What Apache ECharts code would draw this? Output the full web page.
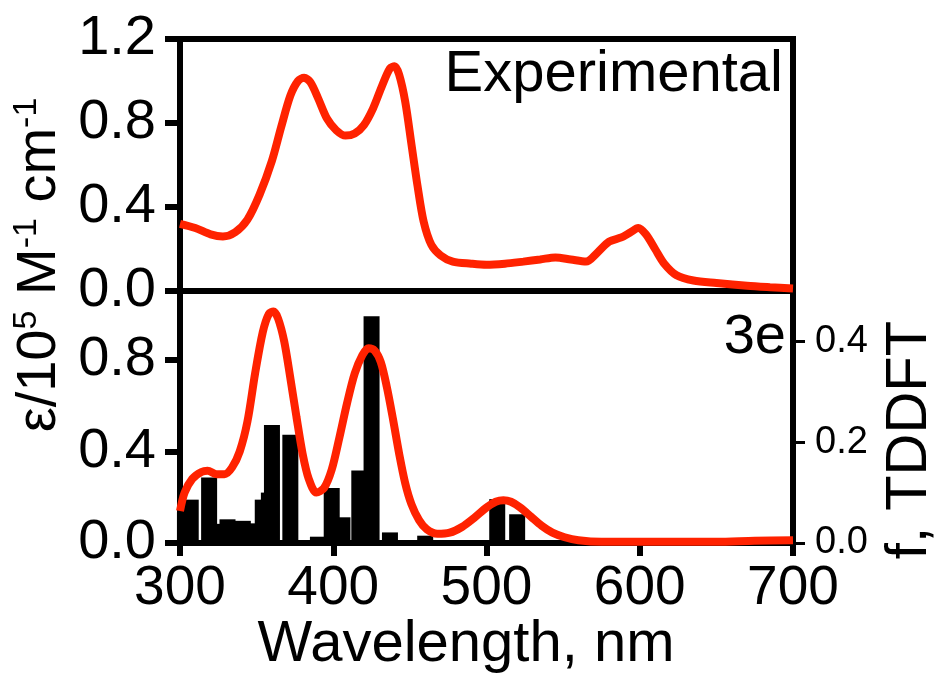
<!DOCTYPE html>
<html>
<head>
<meta charset="utf-8">
<script src="https://cdn.jsdelivr.net/npm/echarts@6/dist/echarts.min.js"></script>
<style>
    html, body { margin: 0; padding: 0; background: #fff; }
    #chart { width: 936px; height: 683px; }
</style>
</head>
<body>
<div id="chart"></div>
<script>
// experimental absorption (top panel)
const expWave = [300, 310, 320, 328, 336, 344, 352, 360, 366, 372, 377, 381, 385, 390, 396, 402, 408, 414, 420, 426,
    432, 437, 440, 443, 447, 451, 455, 459, 464, 470, 478, 490, 500, 512, 524, 535, 545, 555, 565, 572,
    580, 588, 594, 599, 604, 610, 616, 624, 635, 650, 670, 685, 700];
const expAbs = [0.32, 0.30, 0.27, 0.26, 0.28, 0.34, 0.46, 0.62, 0.78, 0.93, 1.0, 1.015, 0.995, 0.92, 0.82, 0.765, 0.74, 0.75, 0.79, 0.87,
    0.98, 1.06, 1.07, 1.03, 0.90, 0.70, 0.50, 0.33, 0.22, 0.17, 0.14, 0.13, 0.125, 0.13, 0.14, 0.15, 0.16, 0.15, 0.14, 0.18,
    0.235, 0.255, 0.28, 0.30, 0.27, 0.20, 0.13, 0.075, 0.05, 0.038, 0.025, 0.018, 0.012];

// simulated spectrum of 3e (bottom panel, left axis)
const calcWave = [300, 303, 308, 314, 318, 324, 329, 334, 339, 344, 349, 354, 358, 361, 364, 368, 372, 376, 380, 384,
    389, 394, 399, 404, 409, 414, 419, 423, 427, 431, 435, 439, 443, 447, 451, 456, 461, 468, 476, 484,
    492, 500, 506, 511, 516, 522, 529, 536, 543, 551, 560, 575, 650, 675, 700];
const calcAbs = [0.14, 0.22, 0.28, 0.31, 0.315, 0.30, 0.30, 0.33, 0.40, 0.53, 0.74, 0.92, 1.0, 1.01, 0.98, 0.88, 0.72, 0.55, 0.39, 0.28,
    0.22, 0.24, 0.32, 0.46, 0.61, 0.74, 0.82, 0.85, 0.84, 0.79, 0.68, 0.54, 0.39, 0.26, 0.17, 0.10, 0.06, 0.04, 0.045, 0.07,
    0.11, 0.155, 0.18, 0.187, 0.18, 0.155, 0.115, 0.075, 0.045, 0.025, 0.012, 0.005, 0.005, 0.01, 0.012];

// TDDFT oscillator strengths (bottom panel, right axis)
const stickWave = [297, 307, 322, 319, 331, 341, 345, 354, 358, 360, 372, 390, 399, 406, 417, 425, 437, 460, 507, 520];
const stickF = [0.061, 0.086, 0.038, 0.13, 0.047, 0.044, 0.039, 0.086, 0.10, 0.234, 0.215, 0.0125, 0.109, 0.051, 0.144, 0.45, 0.021, 0.0145, 0.087, 0.057];

const bottomTicks = [0, 0.4, 0.8];
const fTicks = [0, 0.2, 0.4];

const FONT = 'Liberation Sans, Arial, sans-serif';
const RED = '#ff2200';

function pairs(xs, ys) {
    return xs.map((x, i) => [x, ys[i]]);
}

const chart = echarts.init(document.getElementById('chart'));

const option = {
    backgroundColor: '#fff',
    animation: false,
    grid: [
        { left: 180, top: 39, width: 613, height: 252, show: true, borderColor: '#000', borderWidth: 6, outerBoundsMode: 'none' },
        { left: 180, top: 291, width: 613, height: 252, show: true, borderColor: '#000', borderWidth: 6, outerBoundsMode: 'none' }
    ],
    xAxis: [
        {
            gridIndex: 0, type: 'value', min: 300, max: 700, interval: 100,
            axisLine: { show: false }, axisTick: { show: false }, axisLabel: { show: false }, splitLine: { show: false }
        },
        {
            gridIndex: 1, type: 'value', min: 300, max: 700, interval: 100, position: 'bottom',
            axisLine: { show: true, onZero: false, lineStyle: { color: '#000', width: 6 } },
            axisTick: { show: true, inside: false, length: 13, lineStyle: { color: '#000', width: 6 } },
            axisLabel: { margin: 18, color: '#000', fontSize: 55, fontFamily: FONT },
            splitLine: { show: false }
        }
    ],
    yAxis: [
        {
            gridIndex: 0, type: 'value', min: 0, max: 1.2, interval: 0.4,
            axisLine: { show: false },
            axisTick: { show: true, length: 15, lineStyle: { color: '#000', width: 6 } },
            axisLabel: { margin: 24, color: '#000', fontSize: 56, fontFamily: FONT, formatter: v => v.toFixed(1) },
            splitLine: { show: false }
        },
        {
            gridIndex: 1, type: 'value', min: 0, max: 1.1,
            axisLine: { show: false },
            axisTick: { show: true, length: 15, customValues: bottomTicks, lineStyle: { color: '#000', width: 6 } },
            axisLabel: {
                customValues: bottomTicks, margin: 24, color: '#000', fontSize: 56, fontFamily: FONT,
                formatter: v => v.toFixed(1)
            },
            splitLine: { show: false }
        },
        {
            gridIndex: 1, type: 'value', min: 0, max: 0.5, position: 'right',
            axisLine: { show: false },
            axisTick: { show: true, length: 12, customValues: fTicks, lineStyle: { color: '#000', width: 3 } },
            axisLabel: {
                customValues: fTicks, margin: 22, color: '#000', fontSize: 38, fontFamily: FONT,
                formatter: v => v.toFixed(1)
            },
            splitLine: { show: false }
        }
    ],
    series: [
        {
            type: 'line', xAxisIndex: 0, yAxisIndex: 0,
            data: pairs(expWave, expAbs),
            smooth: 0.3, showSymbol: false,
            lineStyle: { color: RED, width: 8 }
        },
        {
            type: 'line', xAxisIndex: 1, yAxisIndex: 1,
            data: pairs(calcWave, calcAbs),
            smooth: 0.3, showSymbol: false,
            lineStyle: { color: RED, width: 8 }
        },
        {
            type: 'bar', xAxisIndex: 1, yAxisIndex: 2,
            data: pairs(stickWave, stickF),
            barWidth: 16,
            itemStyle: { color: '#000' }
        }
    ],
    graphic: [
        {
            type: 'text', right: 936 - 783, top: 46,
            style: { text: 'Experimental', fill: '#000', font: '58px ' + FONT }
        },
        {
            type: 'text', right: 936 - 786, top: 310,
            style: { text: '3e', fill: '#000', font: '56px ' + FONT }
        },
        {
            type: 'text', x: 466, y: 645,
            style: { text: 'Wavelength, nm', fill: '#000', font: '58px ' + FONT, textAlign: 'center', textVerticalAlign: 'middle' }
        },
        {
            type: 'text', x: 40, y: 265, rotation: Math.PI / 2,
            style: {
                text: '{n|ε/10}{s|5}{n| M}{s|-1}{n| cm}{s|-1}',
                textAlign: 'center', textVerticalAlign: 'middle',
                rich: {
                    n: { fontSize: 56, fontFamily: FONT, fill: '#000' },
                    s: { fontSize: 34, fontFamily: FONT, fill: '#000', padding: [0, 0, 26, 0] }
                }
            }
        },
        {
            type: 'text', x: 910, y: 440, rotation: Math.PI / 2,
            style: { text: 'f, TDDFT', fill: '#000', font: '58px ' + FONT, textAlign: 'center', textVerticalAlign: 'middle' }
        }
    ]
};

chart.setOption(option);
</script>
</body>
</html>
